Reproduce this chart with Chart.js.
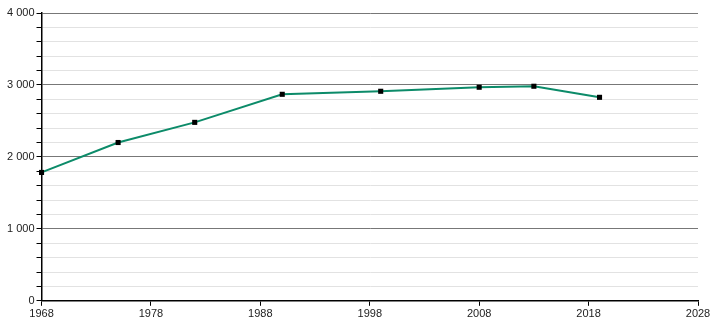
<!DOCTYPE html>
<html>
<head>
<meta charset="utf-8">
<script src="https://cdn.jsdelivr.net/npm/chart.js@4"></script>
<style>
  body { margin: 0; background: #fff; }
  #wrap { width: 710px; height: 320px; }
</style>
</head>
<body>
<div id="wrap"><canvas id="chart"></canvas></div>
<script>
const years = [1968, 1975, 1982, 1990, 1999, 2008, 2013, 2019];
const population = [1784, 2200, 2480, 2870, 2912, 2968, 2982, 2828];

const xTicks = [1968, 1978, 1988, 1998, 2008, 2018, 2028];

// espace comme séparateur de milliers
const fmt = v => String(v).replace(/\B(?=(\d{3})+(?!\d))/g, " ");

new Chart(document.getElementById("chart"), {
    type: "line",
    data: {
        datasets: [{
            data: years.map((y, i) => ({ x: y, y: population[i] })),
            borderColor: "#0c8b69",
            borderWidth: 2,
            pointStyle: "rect",
            pointRadius: 3.6,
            pointBackgroundColor: "#000",
            pointBorderColor: "#000",
            pointBorderWidth: 0,
            tension: 0,
            clip: false
        }]
    },
    options: {
        responsive: true,
        maintainAspectRatio: false,
        animation: false,
        layout: { padding: { top: 13, right: 0, left: 5, bottom: -3 } },
        plugins: { legend: { display: false }, tooltip: { enabled: false } },
        scales: {
            x: {
                type: "linear",
                min: xTicks[0],
                max: xTicks[xTicks.length - 1],
                afterBuildTicks: axis => { axis.ticks = xTicks.map(v => ({ value: v })); },
                afterFit: axis => { axis.paddingRight = 12; },
                ticks: {
                    color: "#222",
                    font: { family: "Liberation Sans", size: 11 },
                    padding: 2,
                    maxRotation: 0,
                    callback: v => String(v)
                },
                grid: { drawOnChartArea: false, color: "#000", tickLength: 5 },
                border: { color: "#000", width: 1.5 }
            },
            y: {
                min: 0,
                max: 4000,
                ticks: {
                    stepSize: 200,
                    autoSkip: false,
                    color: "#222",
                    font: { family: "Liberation Sans", size: 11 },
                    padding: 2,
                    callback: v => v % 1000 === 0 ? fmt(v) : ""
                },
                grid: {
                    color: ctx => ctx.tick && ctx.tick.value % 1000 === 0 ? "#777" : "#e2e2e2",
                    tickColor: "#000",
                    tickLength: 5
                },
                border: { color: "#000", width: 1.5 }
            }
        }
    }
});
</script>
</body>
</html>
